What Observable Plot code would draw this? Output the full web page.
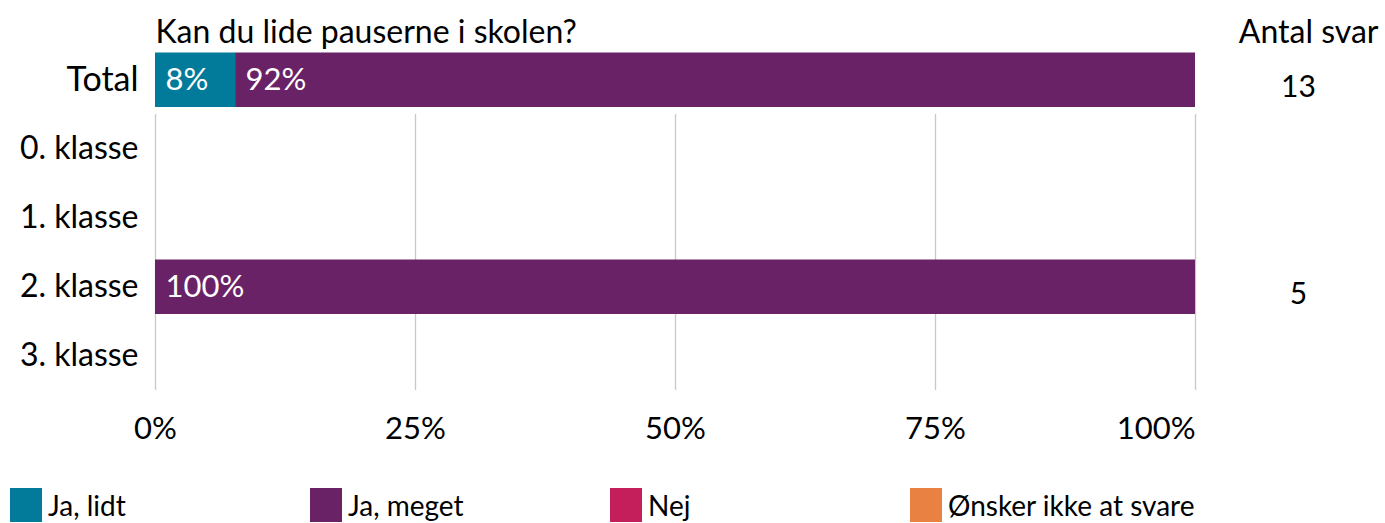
<!DOCTYPE html>
<html>
<head>
<meta charset="utf-8">
<script src="https://cdn.jsdelivr.net/npm/d3@7"></script>
<script src="https://cdn.jsdelivr.net/npm/@observablehq/plot@0.6"></script>
<style>
  html, body { margin: 0; padding: 0; background: #fff; }
  body { font-family: Lato, "Open Sans", sans-serif; width: 1385px; height: 523px; overflow: hidden; position: relative; }
  #legend { position: absolute; left: 10px; top: 488px; display: flex; }
  .item { width: 300px; display: flex; align-items: center; font-size: 28px; color: #000; }
  .sw { width: 32px; height: 34px; margin-right: 6px; flex: none; }
</style>
</head>
<body>
<div id="chart"></div>
<div id="legend"></div>
<script>
const title = "Kan du lide pauserne i skolen?";
const countHeader = "Antal svar";
const categories = ["Total", "0. klasse", "1. klasse", "2. klasse", "3. klasse"];
const answers = ["Ja, lidt", "Ja, meget", "Nej", "Ønsker ikke at svare"];
const colors = ["#027a99", "#6a2267", "#c41f5a", "#e88142"];
// percentage shares per category (rows with no answers are empty)
const shareCategory = ["Total", "Total", "2. klasse"];
const shareAnswer = ["Ja, lidt", "Ja, meget", "Ja, meget"];
const shareValue = [7.7, 92.3, 100];
// number of responses
const countCategory = ["Total", "2. klasse"];
const countValue = [13, 5];
const xTicks = [0, 25, 50, 75, 100];

const shares = shareValue.map((v, i) => ({cat: shareCategory[i], answer: shareAnswer[i], value: v}));
const counts = countValue.map((v, i) => ({cat: countCategory[i], n: v}));
const grid = [];
for (const t of xTicks) for (const c of categories.slice(1)) grid.push({x: t, cat: c});

const W = 1385, H = 470;
const chart = Plot.plot({
  width: W, height: H,
  marginLeft: 155, marginRight: 190, marginTop: 43, marginBottom: 78,
  style: {fontFamily: "Lato, 'Open Sans', sans-serif", color: "#000", background: "#fff"},
  x: {domain: [0, 100], axis: null},
  y: {domain: categories, padding: 0, axis: null},
  color: {domain: answers, range: colors},
  marks: [
    Plot.tickX(grid, {x: "x", y: "cat", stroke: "#c8c8c8", strokeWidth: 1.3}),
    Plot.barX(shares, Plot.stackX({x: "value", y: "cat", fill: "answer", z: "answer", insetTop: 7.5, insetBottom: 7, order: answers})),
    Plot.text(shares, Plot.stackX1({x: "value", y: "cat", z: "answer", order: answers, text: d => Math.round(d.value) + "%", fill: "#fff", fontSize: 31, textAnchor: "start", dx: 10})),
    Plot.axisX({ticks: xTicks.slice(0, -1), tickFormat: d => d + "%", tickSize: 0, tickPadding: 24, fontSize: 31, anchor: "bottom", label: null}),
    Plot.axisX({ticks: xTicks.slice(-1), tickFormat: d => d + "%", tickSize: 0, tickPadding: 24, fontSize: 31, anchor: "bottom", label: null, textAnchor: "end"}),
    Plot.axisY({ticks: ["Total"], tickSize: 0, tickPadding: 17, fontSize: 34, anchor: "left", label: null}),
    Plot.axisY({ticks: categories.slice(1), tickSize: 0, tickPadding: 17, fontSize: 32, anchor: "left", label: null}),
    Plot.text(counts, {y: "cat", text: "n", frameAnchor: "right", dx: 103, dy: 7, fontSize: 30, textAnchor: "middle"}),
    Plot.text([title], {frameAnchor: "top-left", dy: -23, textAnchor: "start", fontSize: 32}),
    Plot.text([countHeader], {frameAnchor: "top-right", dx: 183, dy: -23, textAnchor: "end", fontSize: 32})
  ]
});
document.getElementById("chart").appendChild(chart);

const legend = document.getElementById("legend");
answers.forEach((a, i) => {
  const item = document.createElement("div");
  item.className = "item";
  const sw = document.createElement("span");
  sw.className = "sw";
  sw.style.background = colors[i];
  const lab = document.createElement("span");
  lab.textContent = a;
  item.appendChild(sw);
  item.appendChild(lab);
  legend.appendChild(item);
});
</script>
</body>
</html>
